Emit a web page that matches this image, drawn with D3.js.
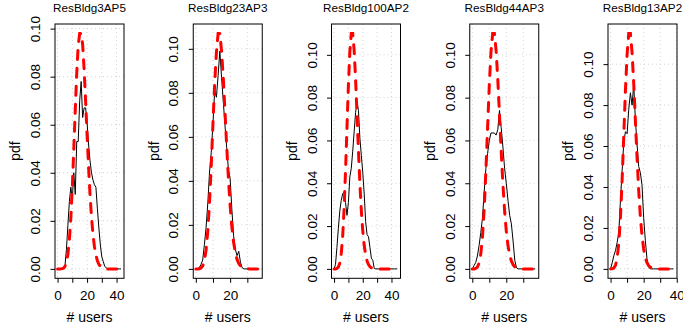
<!DOCTYPE html>
<html>
<head>
<meta charset="utf-8">
<script src="https://cdn.jsdelivr.net/npm/d3@7"></script>
<style>
  body { margin: 0; background: #fff; }
  text { font-family: "Liberation Sans", Arial, sans-serif; fill: #000; }
</style>
</head>
<body>
<script>
// number of users on the x axis (0, 1, 2, ...)
var users = [0,1,2,3,4,5,6,7,8,9,10,11,12,13,14,15,16,17,18,19,20,21,22,23,24,25,26,27,28,29,30,31,32,33,34,35,36,37,38,39,40,41,42,43,44,45];

var titles = ["ResBldg3AP5", "ResBldg23AP3", "ResBldg100AP2", "ResBldg44AP3", "ResBldg13AP2"];

// upper end of the data on x for each panel
var xLimits = [43.3, 37.2, 44.5, 37.6, 38.6];

var xTicks = [0, 10, 20, 30, 40];
var xTickLabels = [0, 20, 40];
var yTicks = [0, 0.02, 0.04, 0.06, 0.08, 0.10];

// empirical pdf (black line)
var obs3AP5 = [0,0,0,0,0,0.001,0.008,0.018,0.028,0.034,0.029,0.040,0.031,0.053,0.053,0.070,0.078,0.063,0.067,0.067,
  0.061,0.052,0.045,0.040,0.037,0.035,0.034,0.025,0.017,0.010,0.005,0.003,0.001,0.0005,0,0,0,0,0,0,0,0,0,0];
var obs23AP3 = [0,0,0.0005,0.002,0.004,0.011,0.019,0.030,0.044,0.053,0.066,0.081,0.078,0.088,0.099,0.087,0.076,0.065,0.055,0.045,
  0.041,0.027,0.015,0.009,0.006,0.008,0.003,0.0005,0,0,0,0,0,0,0,0,0,0];
var obs100AP2 = [0,0.002,0.010,0.019,0.027,0.032,0.035,0.036,0.031,0.025,0.031,0.043,0.047,0.055,0.064,0.073,0.078,0.074,0.061,0.053,
  0.045,0.035,0.022,0.016,0.015,0.010,0.005,0.004,0.0002,0,0,0,0,0,0,0,0,0,0,0,0,0,0,0,0];
var obs44AP3 = [0,0.0015,0.003,0.006,0.011,0.017,0.024,0.036,0.047,0.054,0.060,0.0635,0.0635,0.0635,0.0625,0.065,0.074,0.066,0.057,0.047,
  0.040,0.032,0.025,0.021,0.013,0.004,0.0005,0,0,0,0,0,0,0,0,0,0,0];
var obs13AP2 = [0,0.003,0.0065,0.009,0.013,0.018,0.034,0.048,0.062,0.067,0.066,0.078,0.086,0.080,0.090,0.073,0.061,0.050,0.047,0.041,
  0.025,0.014,0.005,0.001,0,0,0,0,0,0,0,0,0,0,0,0,0,0,0];

// fitted pdf (red dashed line)
var fit3AP5 = [0,0,0,0.0001,0.0003,0.001,0.0026,0.006,0.012,0.0213,0.0341,0.0496,0.0661,0.0814,0.093,0.098,0.098,0.0934,0.083,0.0699,
  0.0559,0.0426,0.031,0.0216,0.0144,0.0092,0.0057,0.0034,0.0019,0.0011,0.0006,0.0003,0.0001,0,0,0,0,0,0,0,0,0,0,0];
var fit23AP3 = [0,0,0.0001,0.0004,0.0013,0.0037,0.0087,0.0174,0.0304,0.0474,0.0663,0.0844,0.0984,0.107,0.107,0.0989,0.0866,0.0713,0.0555,0.0409,
  0.0286,0.0191,0.0121,0.0074,0.0043,0.0024,0.0013,0.0007,0.0003,0.0002,0.0001,0,0,0,0,0,0,0];
var fit100AP2 = [0,0,0.0002,0.0008,0.0027,0.007,0.0152,0.0282,0.0458,0.0661,0.0859,0.1015,0.11,0.11,0.1021,0.0885,0.0719,0.055,0.0397,0.0272,
  0.0177,0.0109,0.0065,0.0037,0.002,0.001,0.0005,0.0003,0.0001,0,0,0,0,0,0,0,0,0,0,0,0,0,0,0,0];
var fit44AP3 = [0,0,0.0002,0.0008,0.0027,0.007,0.0152,0.0282,0.0458,0.0661,0.0859,0.1015,0.11,0.11,0.1021,0.0885,0.0719,0.055,0.0397,0.0272,
  0.0177,0.0109,0.0065,0.0037,0.002,0.001,0.0005,0.0003,0.0001,0,0,0,0,0,0,0,0,0];
var fit13AP2 = [0,0.0001,0.0004,0.0018,0.0053,0.0127,0.0255,0.0437,0.0655,0.0874,0.1048,0.115,0.115,0.1056,0.0905,0.0724,0.0543,0.0383,0.0256,0.0161,
  0.0097,0.0055,0.003,0.0016,0.0008,0.0004,0.0002,0.0001,0,0,0,0,0,0,0,0,0,0,0];

var observed = [obs3AP5, obs23AP3, obs100AP2, obs44AP3, obs13AP2];
var fitted = [fit3AP5, fit23AP3, fit100AP2, fit44AP3, fit13AP2];

// layout
var svgWidth = 683;
var svgHeight = 331;
var panelStep = 138.25;
var boxLeft = 55;
var boxWidth = 69;
var boxTop = 24;
var boxBottom = 278.3;

var svg = d3.select("body")
  .append("svg")
  .attr("width", svgWidth)
  .attr("height", svgHeight);

titles.forEach(function(title, i) {
  var obs = observed[i];
  var fit = fitted[i];

  var g = svg.append("g")
    .attr("transform", `translate(${boxLeft + i * panelStep}, 0)`);

  // R style axes: 4% padding on both ends
  var xLim = xLimits[i];
  var xScale = d3.scaleLinear()
    .domain([-0.04 * xLim, 1.04 * xLim])
    .range([0, boxWidth]);

  var yMax = d3.max(obs.concat(fit));
  var yScale = d3.scaleLinear()
    .domain([-0.04 * yMax, 1.04 * yMax])
    .range([boxBottom, boxTop]);

  var xt = xTicks.filter(d => d <= 1.04 * xLim);

  // dotted grid
  g.selectAll(".gx").data(xt).enter().append("line")
    .attr("x1", d => xScale(d)).attr("x2", d => xScale(d))
    .attr("y1", boxTop).attr("y2", boxBottom)
    .attr("stroke", "#d3d3d3").attr("stroke-dasharray", "1,3");
  g.selectAll(".gy").data(yTicks).enter().append("line")
    .attr("x1", 0).attr("x2", boxWidth)
    .attr("y1", d => yScale(d)).attr("y2", d => yScale(d))
    .attr("stroke", "#d3d3d3").attr("stroke-dasharray", "1,3");

  // x axis
  var bottomAxis = d3.axisBottom(xScale)
    .tickValues(xt)
    .tickSize(4.5)
    .tickFormat(d => xTickLabels.indexOf(d) >= 0 ? d : "");
  var gx = g.append("g")
    .attr("transform", `translate(0, ${boxBottom})`)
    .call(bottomAxis);
  gx.select(".domain").remove();
  gx.selectAll("line").attr("stroke", "#000");
  gx.selectAll("text")
    .attr("y", 21.7).attr("dy", 0)
    .style("font-size", "13.5px")
    .style("font-family", "Liberation Sans, Arial, sans-serif")
    .attr("fill", "#000");

  // y axis with rotated labels
  var leftAxis = d3.axisLeft(yScale)
    .tickValues(yTicks)
    .tickSize(4.5)
    .tickFormat(d3.format(".2f"));
  var gy = g.append("g").call(leftAxis);
  gy.select(".domain").remove();
  gy.selectAll("line").attr("stroke", "#000");
  gy.selectAll("text")
    .attr("x", 0).attr("dy", 0)
    .attr("transform", "translate(-15, 0) rotate(-90)")
    .attr("text-anchor", "middle")
    .style("font-size", "13.5px")
    .style("font-family", "Liberation Sans, Arial, sans-serif")
    .attr("fill", "#000");

  // lines
  var line = d3.line()
    .x((d, j) => xScale(users[j]))
    .y(d => yScale(d));

  g.append("path")
    .datum(obs)
    .attr("d", line)
    .attr("fill", "none")
    .attr("stroke", "#000")
    .attr("stroke-width", 1);

  g.append("path")
    .datum(fit)
    .attr("d", line)
    .attr("fill", "none")
    .attr("stroke", "#ff0000")
    .attr("stroke-width", 3)
    .attr("stroke-linecap", "round")
    .attr("stroke-dasharray", "9,9");

  // box
  g.append("rect")
    .attr("x", 0).attr("y", boxTop)
    .attr("width", boxWidth).attr("height", boxBottom - boxTop)
    .attr("fill", "none").attr("stroke", "#000");

  // titles and labels
  g.append("text")
    .attr("x", boxWidth / 2).attr("y", 11.5)
    .attr("text-anchor", "middle")
    .style("font-size", "11.7px")
    .text(title);

  g.append("text")
    .attr("x", boxWidth / 2).attr("y", 322)
    .attr("text-anchor", "middle")
    .style("font-size", "14px")
    .text("# users");

  g.append("text")
    .attr("transform", `translate(-34.7, ${(boxTop + boxBottom) / 2}) rotate(-90)`)
    .attr("text-anchor", "middle")
    .style("font-size", "14px")
    .text("pdf");
});
</script>
</body>
</html>
